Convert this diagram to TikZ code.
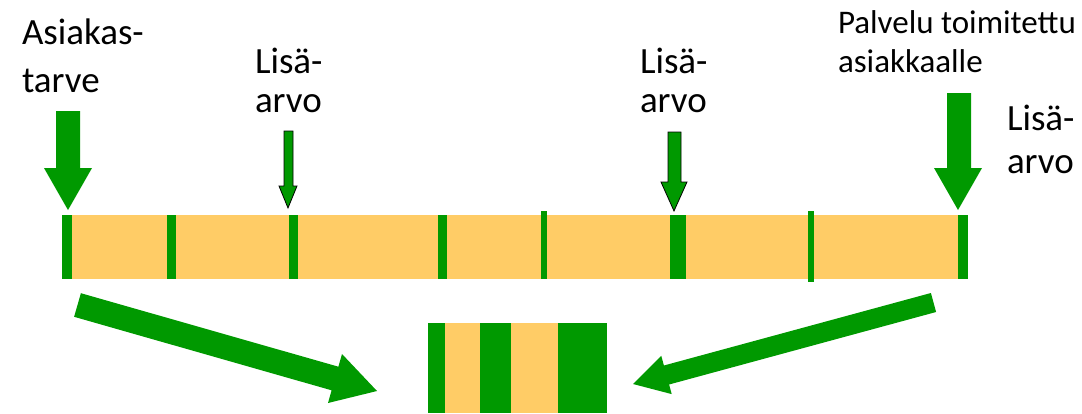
\documentclass[tikz,border=0pt]{standalone}
\usepackage{fontspec}
\setmainfont{Carlito}
\definecolor{pgreen}{RGB}{0,153,0}
\definecolor{porange}{RGB}{255,204,102}
\begin{document}
\begin{tikzpicture}[x=1pt,y=-1pt,
  label/.style={inner sep=0pt,outer sep=0pt,align=left,anchor=base west},
  bar/.style={fill=porange,draw=none},
  stripe/.style={fill=pgreen,draw=none},
  bigarrow/.style={fill=pgreen,draw=none},
  smallarrow/.style={fill=pgreen,draw=black,line width=0.8pt,line join=miter}]
\useasboundingbox (0,0) rectangle (1082,413);
% main bar
\path[bar] (62,215) rectangle (968,279);
\path[stripe] (62,215) rectangle (72,279);
\path[stripe] (167,215) rectangle (176,279);
\path[stripe] (289,215) rectangle (298,279);
\path[stripe] (438,215) rectangle (447,279);
\path[stripe] (541,211) rectangle (547,279);
\path[stripe] (670,215) rectangle (686,279);
\path[stripe] (808,211) rectangle (814,282);
\path[stripe] (958,215) rectangle (968,279);
% bottom bar
\path[bar] (428,323) rectangle (607,413);
\path[stripe] (428,323) rectangle (445,413);
\path[stripe] (480,323) rectangle (511,413);
\path[stripe] (558,323) rectangle (607,413);
% big down arrows
\path[bigarrow] (56,111) -- (80,111) -- (80,168) -- (92,168) -- (68,210) -- (44,168) -- (56,168) -- cycle;
\path[bigarrow] (947,93) -- (971,93) -- (971,168) -- (982,168) -- (958,210) -- (934,168) -- (947,168) -- cycle;
% small down arrows
\draw[smallarrow] (284,131) -- (293,131) -- (293,186) -- (297,186) -- (288,208) -- (279,186) -- (284,186) -- cycle;
\draw[smallarrow] (668,132) -- (681,132) -- (681,182) -- (687,182) -- (674,211) -- (661,182) -- (668,182) -- cycle;
% diagonal arrows
\path[bigarrow] (80.9,293.2) -- (338.4,366.7) -- (342,354) -- (377,391) -- (328,403) -- (331.6,390.3) -- (74.1,316.8) -- cycle;
\path[bigarrow] (930.9,293) -- (663.9,365.5) -- (661.3,355.9) -- (633,384) -- (671.7,394.1) -- (669.1,384.5) -- (936.1,312) -- cycle;
% texts (base anchor = baseline of last line)
\node[label,font=\fontsize{37}{48}\selectfont] (need) at (22,92) {Asiakas-\\tarve};
\node[label,font=\fontsize{37}{39}\selectfont] (va1) at (255,112) {Lisä-\\arvo};
\node[label,font=\fontsize{37}{39}\selectfont] (va2) at (640,112) {Lisä-\\arvo};
\node[label,font=\fontsize{33}{39}\selectfont] (del) at (838,72) {Palvelu toimitettu\\asiakkaalle};
\node[label,font=\fontsize{37}{43}\selectfont] (va3) at (1007,173) {Lisä-\\arvo};
\end{tikzpicture}
\end{document}
